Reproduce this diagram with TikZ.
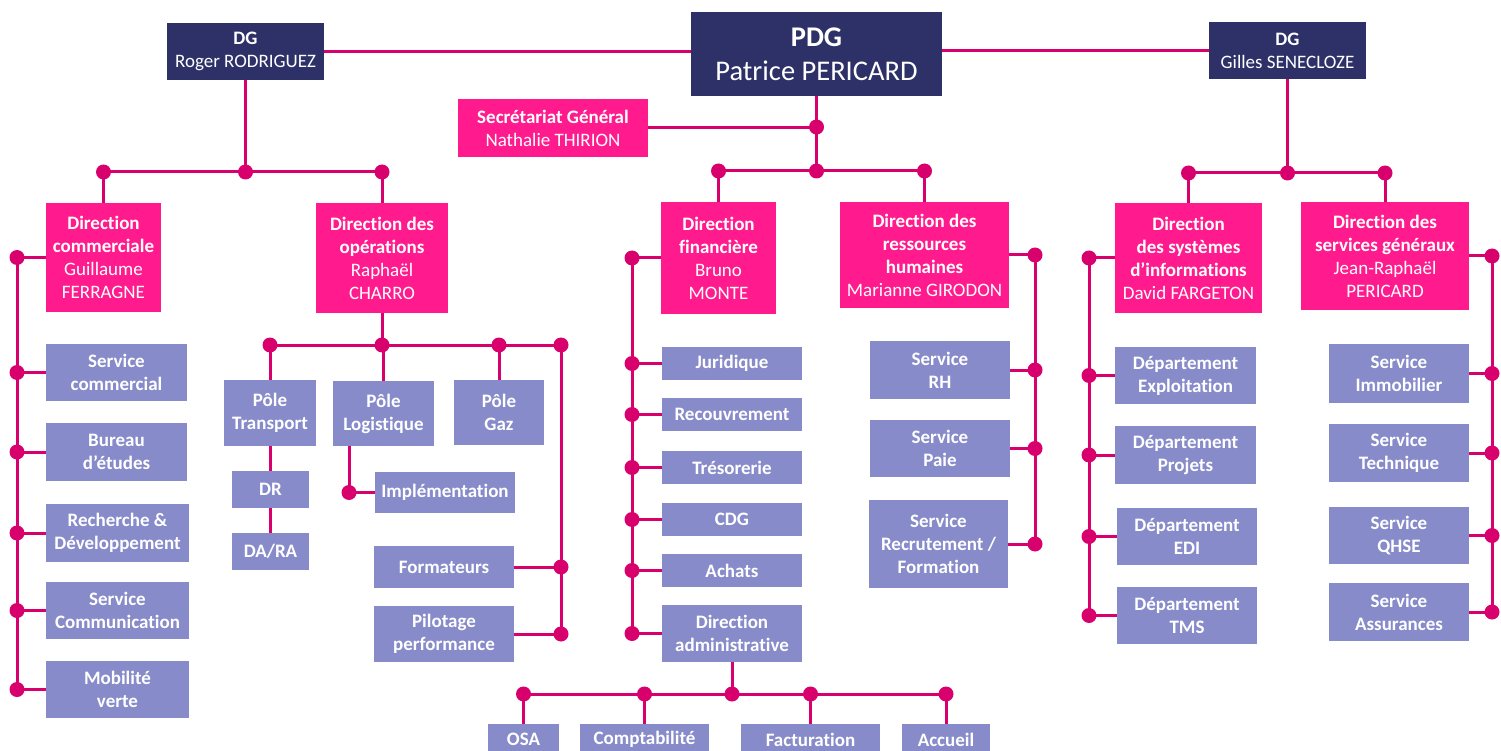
\documentclass[tikz,border=0pt]{standalone}
\usepackage{fontspec}
\setmainfont[Ligatures={NoCommon}]{Carlito}
\definecolor{navy}{HTML}{2E3168}
\definecolor{pinkc}{HTML}{FF1B8D}
\definecolor{linec}{HTML}{D8006C}
\definecolor{lav}{HTML}{878BC9}
\newcommand\obox[7]{\node[#6, minimum width={(#4)-(#2)}, minimum height={(#5)-(#3)}] (#1) at ({((#2)+(#4))/2},{((#3)+(#5))/2}) {#7};}
\newcommand\dt[1]{\fill[linec] (#1) circle (7.5pt);}
\begin{document}
\begin{tikzpicture}[x=1pt,y=-1pt,
  box/.style={inner sep=0pt, align=center, text=white, font=\fontsize{19}{23}\selectfont},
  navyb/.style={box, fill=navy},
  bignavy/.style={box, fill=navy, font=\fontsize{28.5}{34}\selectfont},
  pinkb/.style={box, fill=pinkc},
  lavb/.style={box, fill=lav, font=\bfseries\fontsize{19}{23}\selectfont},
  ln/.style={draw=linec, line width=3pt}]
\clip (0,0) rectangle (1501,751);
\fill[white] (0,0) rectangle (1501,751);
% top level
\obox{dgl}{167}{23}{324}{80}{navyb}{\textbf{DG}\\Roger RODRIGUEZ}
\obox{pdg}{691}{12}{942}{96}{bignavy}{\textbf{PDG}\\Patrice PERICARD}
\obox{dgr}{1209}{22}{1366}{79}{navyb}{\textbf{DG}\\Gilles SENECLOZE}
\obox{sec}{458}{99}{648}{157}{pinkb}{\textbf{Secrétariat Général}\\Nathalie THIRION}
% directions
\obox{dcom}{46}{203}{161}{312}{pinkb}{\textbf{Direction}\\\textbf{commerciale}\\Guillaume\\FERRAGNE}
\obox{dops}{316}{203}{448}{313}{pinkb}{\textbf{Direction des}\\\textbf{opérations}\\Raphaël\\CHARRO}
\obox{dfin}{661}{202}{776}{314}{pinkb}{\textbf{Direction}\\\textbf{financière}\\Bruno\\MONTE}
\obox{drh}{840}{202}{1009}{308}{pinkb}{\textbf{Direction des}\\\textbf{ressources}\\\textbf{humaines}\\Marianne GIRODON}
\obox{dsi}{1115}{203}{1262}{313}{pinkb}{\textbf{Direction}\\\textbf{des systèmes}\\\textbf{d’informations}\\David FARGETON}
\obox{dsg}{1301}{202}{1469}{310}{pinkb}{\textbf{Direction des}\\\textbf{services généraux}\\Jean-Raphaël\\PERICARD}
% commerciale
\obox{scom}{46}{344}{187}{401}{lavb}{Service\\commercial}
\obox{bur}{46}{423}{187}{481}{lavb}{Bureau\\d’études}
\obox{rd}{46}{504}{189}{562}{lavb}{Recherche \&\\Développement}
\obox{scomm}{46}{582}{189}{639}{lavb}{Service\\Communication}
\obox{mob}{46}{661}{189}{718}{lavb}{Mobilité\\verte}
% operations
\obox{ptr}{224}{380}{316}{446}{lavb}{Pôle\\Transport}
\obox{plog}{333}{381}{434}{446}{lavb}{Pôle\\Logistique}
\obox{pgaz}{454}{380}{544}{445}{lavb}{Pôle\\Gaz}
\obox{dr}{232}{471}{309}{508}{lavb}{DR}
\obox{dara}{232}{533}{309}{570}{lavb}{DA/RA}
\obox{impl}{375}{472}{515}{513}{lavb}{Implémentation}
\obox{form}{374}{546}{514}{588}{lavb}{Formateurs}
\obox{pil}{374}{606}{514}{662}{lavb}{Pilotage\\performance}
% finance
\obox{jur}{662}{347}{802}{380}{lavb}{Juridique}
\obox{rec}{662}{398}{802}{431}{lavb}{Recouvrement}
\obox{tres}{662}{451}{802}{484}{lavb}{Trésorerie}
\obox{cdg}{662}{503}{802}{536}{lavb}{CDG}
\obox{ach}{662}{554}{802}{587}{lavb}{Achats}
\obox{dadm}{662}{605}{802}{662}{lavb}{Direction\\administrative}
\obox{osa}{488}{724}{559}{755}{lavb}{OSA}
\obox{comp}{580}{724}{709}{755}{lavb}{Comptabilité}
\obox{fact}{741}{724}{880}{755}{lavb}{Facturation}
\obox{acc}{902}{724}{990}{755}{lavb}{Accueil}
% RH
\obox{srh}{870}{341}{1010}{399}{lavb}{Service\\RH}
\obox{spaie}{870}{420}{1010}{477}{lavb}{Service\\Paie}
\obox{srec}{869}{500}{1008}{588}{lavb}{Service\\Recrutement /\\Formation}
% SI
\obox{dex}{1115}{347}{1256}{404}{lavb}{Département\\Exploitation}
\obox{dpr}{1115}{426}{1256}{484}{lavb}{Département\\Projets}
\obox{dedi}{1117}{508}{1257}{565}{lavb}{Département\\EDI}
\obox{dtms}{1117}{587}{1257}{644}{lavb}{Département\\TMS}
% SG
\obox{simm}{1329}{344}{1469}{403}{lavb}{Service\\Immobilier}
\obox{stech}{1329}{424}{1469}{482}{lavb}{Service\\Technique}
\obox{sqhse}{1329}{507}{1469}{564}{lavb}{Service\\QHSE}
\obox{sass}{1329}{583}{1469}{641}{lavb}{Service\\Assurances}

% ---- connectors ----
\draw[ln] (dgl.east) -- (dgl.east -| pdg.west);
\draw[ln] (dgr.west) -- (dgr.west -| pdg.east);
% left DG
\coordinate (jl) at (dgl.south |- 0,172);
\draw[ln] (dgl.south) -- (jl);
\draw[ln] (dcom.north) |- (jl) -| (dops.north);
\dt{jl} \dt{dcom.north |- jl} \dt{dops.north |- jl}
% commerciale spine
\coordinate (sc) at (17,0);
\draw[ln] (dcom.west) -- (dcom.west -| sc) -- (mob.west -| sc) -- (mob.west);
\dt{dcom.west -| sc}
\foreach \n in {scom,bur,rd,scomm,mob}{\draw[ln] (\n.west) -- (\n.west -| sc); \dt{\n.west -| sc}}
% operations
\coordinate (jo) at (dops.south |- 0,345);
\coordinate (ro) at (561,345);
\draw[ln] (dops.south) -- (jo);
\draw[ln] (ptr.north) |- (ro) -- (ro |- pil.east) -- (pil.east);
\draw[ln] (plog.north) -- (plog.north |- ro);
\draw[ln] (pgaz.north) -- (pgaz.north |- ro);
\draw[ln] (form.east) -- (form.east -| ro);
\dt{ptr.north |- ro} \dt{jo} \dt{pgaz.north |- ro} \dt{ro} \dt{form.east -| ro} \dt{pil.east -| ro}
\draw[ln] (ptr.south) -- (ptr.south |- dr.north);
\draw[ln] (dr.south) -- (dr.south |- dara.north);
\coordinate (li) at (349,0);
\draw[ln] (li |- plog.south) |- (impl.west);
\dt{li |- impl.west}
% PDG
\coordinate (jp1) at (pdg.south |- 0,127);
\coordinate (jp2) at (pdg.south |- 0,171);
\draw[ln] (pdg.south) -- (jp2);
\draw[ln] (sec.east) -- (sec.east -| jp1);
\draw[ln] (dfin.north) |- (jp2) -| (drh.north);
\dt{jp1} \dt{jp2} \dt{dfin.north |- jp2} \dt{drh.north |- jp2}
% finance spine
\coordinate (sf) at (632,0);
\draw[ln] (dfin.west) -- (dfin.west -| sf) -- (dadm.west -| sf) -- (dadm.west);
\dt{dfin.west -| sf}
\foreach \n in {jur,rec,tres,cdg,ach,dadm}{\draw[ln] (\n.west) -- (\n.west -| sf); \dt{\n.west -| sf}}
% admin bus
\coordinate (ja) at (dadm.south |- 0,694);
\draw[ln] (dadm.south) -- (ja);
\draw[ln] (osa.north) |- (ja) -| (acc.north);
\draw[ln] (comp.north) -- (comp.north |- ja);
\draw[ln] (fact.north) -- (fact.north |- ja);
\dt{osa.north |- ja} \dt{comp.north |- ja} \dt{ja} \dt{fact.north |- ja} \dt{acc.north |- ja}
% RH spine
\coordinate (sr) at (1035,0);
\draw[ln] (drh.east) -- (drh.east -| sr) -- (srec.east -| sr) -- (srec.east);
\dt{drh.east -| sr}
\foreach \n in {srh,spaie,srec}{\draw[ln] (\n.east) -- (\n.east -| sr); \dt{\n.east -| sr}}
% right DG
\coordinate (jr) at (dgr.south |- 0,173);
\draw[ln] (dgr.south) -- (jr);
\draw[ln] (dsi.north) |- (jr) -| (dsg.north);
\dt{jr} \dt{dsi.north |- jr} \dt{dsg.north |- jr}
% SI spine
\coordinate (ss) at (1089,0);
\draw[ln] (dsi.west) -- (dsi.west -| ss) -- (dtms.west -| ss) -- (dtms.west);
\dt{dsi.west -| ss}
\foreach \n in {dex,dpr,dedi,dtms}{\draw[ln] (\n.west) -- (\n.west -| ss); \dt{\n.west -| ss}}
% SG spine
\coordinate (sg) at (1492,0);
\draw[ln] (dsg.east) -- (dsg.east -| sg) -- (sass.east -| sg) -- (sass.east);
\dt{dsg.east -| sg}
\foreach \n in {simm,stech,sqhse,sass}{\draw[ln] (\n.east) -- (\n.east -| sg); \dt{\n.east -| sg}}
\end{tikzpicture}
\end{document}
